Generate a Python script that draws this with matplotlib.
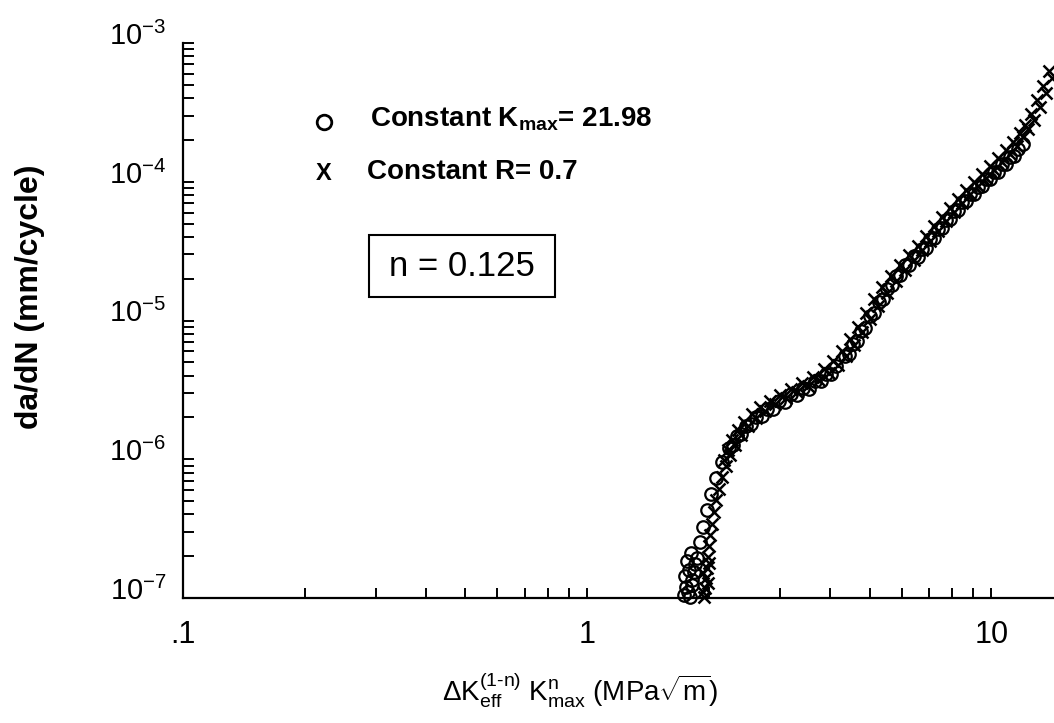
import numpy as np
import matplotlib
matplotlib.use("Agg")
import matplotlib.pyplot as plt
from matplotlib.ticker import LogLocator, FuncFormatter, NullFormatter
from matplotlib.patches import Rectangle
from matplotlib.lines import Line2D
from matplotlib.transforms import ScaledTranslation

plt.rcParams['font.family'] = ['Liberation Sans', 'DejaVu Sans']
plt.rcParams['mathtext.fontset'] = 'custom'
plt.rcParams['mathtext.rm'] = 'Liberation Sans'
plt.rcParams['mathtext.it'] = 'Liberation Sans:italic'
plt.rcParams['mathtext.bf'] = 'Liberation Sans:bold'

# ---- data: Constant Kmax = 21.98 (open circles) ----
kmax_x = [1.74, 1.76, 1.78, 1.75, 1.79, 1.82, 1.77, 1.81, 1.85,
          1.799, 1.820, 1.841, 1.873, 1.905, 1.938, 1.982, 2.028, 2.086, 2.159,
          2.247, 2.352, 2.475, 2.620, 2.790, 2.987, 3.199, 3.425, 3.668, 3.906,
          4.134, 4.352, 4.555, 4.768, 5.018, 5.283, 5.529, 5.820, 6.125, 6.447,
          6.748, 7.063, 7.392, 7.737, 8.098, 8.476, 8.872, 9.286, 9.719, 10.17,
          10.65, 11.14, 11.66, 12.00,
          2.298, 2.405, 2.547, 2.712, 2.887, 3.091, 3.310, 3.544, 3.795, 4.017,
          4.452, 4.659, 4.876, 5.133, 5.403, 5.688, 5.953, 6.266, 6.596, 6.904,
          7.226, 7.563, 7.916, 8.286, 8.673, 9.077, 9.501, 9.943, 10.41, 10.89,
          11.40]
kmax_y = [1.05e-7, 1.20e-7, 1.10e-7, 1.45e-7, 1.60e-7, 1.35e-7, 1.85e-7, 2.10e-7, 1.75e-7,
          1.02e-7, 1.24e-7, 1.54e-7, 1.94e-7, 2.53e-7, 3.24e-7, 4.30e-7, 5.60e-7, 7.30e-7, 9.52e-7,
          1.20e-6, 1.46e-6, 1.73e-6, 2.00e-6, 2.29e-6, 2.61e-6, 2.94e-6, 3.24e-6, 3.64e-6, 4.09e-6,
          4.67e-6, 5.51e-6, 6.72e-6, 8.34e-6, 1.07e-5, 1.37e-5, 1.70e-5, 2.11e-5, 2.53e-5, 2.94e-5,
          3.30e-5, 3.89e-5, 4.59e-5, 5.33e-5, 6.18e-5, 7.18e-5, 8.20e-5, 9.21e-5, 1.05e-4, 1.18e-4,
          1.35e-4, 1.51e-4, 1.73e-4, 1.88e-4,
          1.26e-6, 1.51e-6, 1.79e-6, 2.04e-6, 2.29e-6, 2.57e-6, 2.89e-6, 3.19e-6, 3.64e-6, 4.09e-6,
          5.69e-6, 7.06e-6, 8.90e-6, 1.14e-5, 1.44e-5, 1.79e-5, 2.14e-5, 2.53e-5, 2.89e-5, 3.35e-5,
          3.96e-5, 4.67e-5, 5.42e-5, 6.29e-5, 7.30e-5, 8.20e-5, 9.36e-5, 1.05e-4, 1.18e-4, 1.35e-4,
          1.54e-4]

# ---- data: Constant R = 0.7 (x markers) ----
r_x = [1.948, 1.959, 1.970, 1.982, 1.993, 2.004, 2.016, 2.039, 2.063, 2.086,
       2.122, 2.159, 2.209, 2.259, 2.324, 2.405, 2.503, 2.620, 2.758, 2.920,
       3.109, 3.310, 3.524, 3.752, 3.972, 4.181, 4.376, 4.580, 4.795, 5.018,
       5.252, 5.529, 5.820, 6.125, 6.447, 6.748, 7.063, 7.392, 7.737, 8.098,
       8.476, 8.872, 9.286, 9.719, 10.17, 10.65, 11.14, 11.60, 12.00, 12.35,
       12.78, 13.22, 13.68, 14.16,
       4.477, 4.685, 4.904, 5.133, 5.372, 5.655, 5.953, 6.266, 6.596, 6.904,
       7.226, 7.563, 7.916, 8.286, 8.673, 9.077, 9.501, 9.943, 10.41, 10.89,
       11.34, 11.80, 12.14, 12.56, 13.00, 13.45, 13.92,
       2.183, 2.234, 2.285, 2.365, 2.447, 2.561, 2.681, 2.838, 3.004, 3.199,
       3.405, 3.626, 3.860, 4.063, 4.278,
       1.93, 1.99, 1.94, 2.00]
r_y = [1.02e-7, 1.18e-7, 1.39e-7, 1.64e-7, 1.97e-7, 2.37e-7, 2.84e-7, 3.41e-7, 4.15e-7, 5.07e-7,
       6.08e-7, 7.42e-7, 8.90e-7, 1.07e-6, 1.26e-6, 1.49e-6, 1.73e-6, 1.97e-6, 2.22e-6, 2.49e-6,
       2.75e-6, 3.03e-6, 3.35e-6, 3.70e-6, 4.16e-6, 4.75e-6, 5.51e-6, 6.61e-6, 8.20e-6, 1.02e-5,
       1.28e-5, 1.59e-5, 1.94e-5, 2.33e-5, 2.75e-5, 3.24e-5, 3.77e-5, 4.44e-5, 5.24e-5, 6.08e-5,
       7.06e-5, 8.20e-5, 9.36e-5, 1.07e-4, 1.22e-4, 1.39e-4, 1.59e-4, 1.82e-4, 2.11e-4, 2.40e-4,
       2.79e-4, 3.47e-4, 4.37e-4, 5.60e-4,
       7.30e-6, 9.05e-6, 1.14e-5, 1.42e-5, 1.73e-5, 2.11e-5, 2.53e-5, 2.98e-5, 3.46e-5, 4.09e-5,
       4.83e-5, 5.60e-5, 6.50e-5, 7.55e-5, 8.76e-5, 1.00e-4, 1.14e-4, 1.30e-4, 1.49e-4, 1.70e-4,
       1.94e-4, 2.25e-4, 2.57e-4, 3.08e-4, 3.89e-4, 4.90e-4, 6.29e-4,
       9.84e-7, 1.16e-6, 1.37e-6, 1.62e-6, 1.85e-6, 2.11e-6, 2.37e-6, 2.61e-6, 2.89e-6, 3.19e-6,
       3.52e-6, 3.89e-6, 4.44e-6, 5.07e-6, 5.98e-6,
       1.10e-7, 1.28e-7, 1.52e-7, 1.80e-7]

xtick_vals = [0.1, 1, 10]
xtick_labels = ['.1', '1', '10']

fig = plt.figure(figsize=(10.54, 7.23), dpi=100)
ax = fig.add_axes([183/1054, 125/723, 871/1054, 555/723])
ax.set_xscale('log')
ax.set_yscale('log')
ax.set_xlim(0.1, 14.3)
ax.set_ylim(1e-7, 1e-3)

ax.plot(kmax_x, kmax_y, linestyle='none', marker='o', markersize=9,
        markerfacecolor='none', markeredgecolor='black', markeredgewidth=1.6, clip_on=False)
ax.plot(r_x, r_y, linestyle='none', marker='x', markersize=8,
        color='black', markeredgewidth=1.8, clip_on=False)

for s in ['top', 'right']:
    ax.spines[s].set_visible(False)
for s in ['left', 'bottom']:
    ax.spines[s].set_linewidth(1.6)

ax.xaxis.set_major_locator(LogLocator(base=10, numticks=10))
ax.xaxis.set_minor_locator(LogLocator(base=10, subs=np.arange(2, 10), numticks=20))
ax.yaxis.set_major_locator(LogLocator(base=10, numticks=10))
ax.yaxis.set_minor_locator(LogLocator(base=10, subs=np.arange(2, 10), numticks=20))


def xfmt(v, p):
    for k, s in zip(xtick_vals, xtick_labels):
        if abs(np.log10(k) - np.log10(v)) < 1e-6:
            return s
    return ''


ax.xaxis.set_major_formatter(FuncFormatter(xfmt))
ax.xaxis.set_minor_formatter(NullFormatter())
ax.yaxis.set_major_formatter(FuncFormatter(
    lambda v, p: r'$\mathregular{10^{%d}}$' % int(round(np.log10(v)))))
ax.yaxis.set_minor_formatter(NullFormatter())

ax.tick_params(axis='both', which='both', direction='in', width=1.4, colors='black')
ax.tick_params(axis='x', which='both', length=7, pad=16, labelsize=22)
ax.tick_params(axis='y', which='both', length=8, pad=12, labelsize=21)

fig.canvas.draw()
for t in ax.yaxis.get_major_ticks():
    t.label1.set_va('baseline')
    t.label1.set_transform(t.label1.get_transform() + ScaledTranslation(0, -0.02, fig.dpi_scale_trans))

# axis labels
fig.text(30/1054, 1 - 297/723, 'da/dN (mm/cycle)', rotation=90, ha='center',
         va='center', fontsize=23, fontweight='bold')
fig.text(580/1054, 1 - 690/723,
         r'$\Delta\mathrm{K}_{\mathrm{eff}}^{\mathrm{(1\text{-}n)}}\ \mathrm{K}_{\mathrm{max}}^{\mathrm{n}}\ (\mathrm{MPa}\sqrt{\mathrm{m}})$',
         ha='center', va='center', fontsize=20)

# legend entries
fig.add_artist(Line2D([324/1054], [1 - 122/723], transform=fig.transFigure, marker='o',
                      markersize=10.5, markerfacecolor='none', markeredgecolor='black',
                      markeredgewidth=2.0, linestyle='none'))
fig.text(370/1054, 1 - 119/723, r'Constant K$_{\mathregular{max}}$= 21.98', ha='left',
         va='center', fontsize=20, fontweight='bold')
fig.text(324/1054, 1 - 174/723, 'X', ha='center', va='center', fontsize=17, fontweight='bold')
fig.text(367/1054, 1 - 172/723, 'Constant R= 0.7', ha='left', va='center',
         fontsize=20, fontweight='bold')

# n box
fig.patches.append(Rectangle((369/1054, 1 - 297/723), 186/1054, 62/723,
                             transform=fig.transFigure, fill=False,
                             edgecolor='black', linewidth=1.5))
fig.text(462/1054, 1 - 266/723, 'n = 0.125', ha='center', va='center', fontsize=25)

fig.savefig('out.png', dpi=100)
